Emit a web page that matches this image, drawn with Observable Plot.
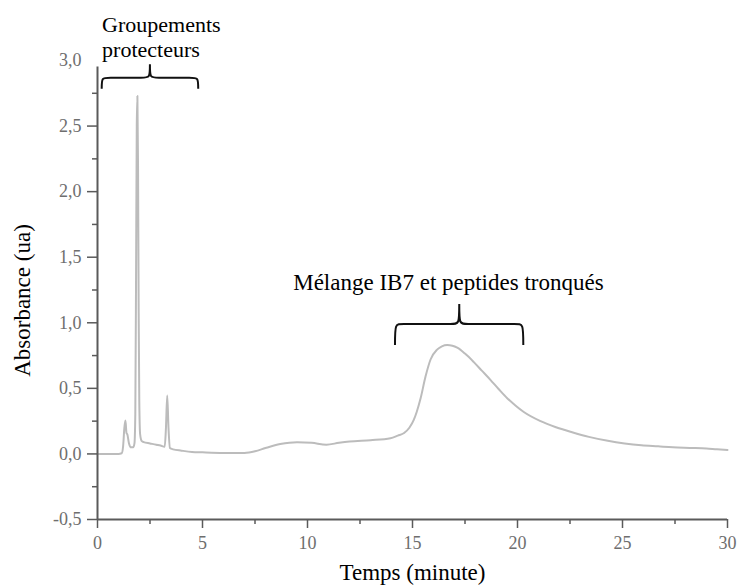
<!DOCTYPE html>
<html>
<head>
<meta charset="utf-8">
<script src="https://cdn.jsdelivr.net/npm/d3@7"></script>
<script src="https://cdn.jsdelivr.net/npm/@observablehq/plot@0.6"></script>
<style>
  html, body { margin: 0; padding: 0; background: #fff; }
  #chart { width: 737px; height: 587px; }
</style>
</head>
<body>
<div id="chart"></div>
<script>
// Chromatogram: time (minute) and absorbance (ua)
const times = [0, 0.5, 1.0, 1.15, 1.22, 1.28, 1.33, 1.38, 1.42, 1.5, 1.6, 1.7, 1.76, 1.8, 1.84, 1.87, 1.9, 1.93, 1.96, 1.99, 2.03, 2.1, 2.2, 2.5, 2.8, 3.0, 3.2, 3.26, 3.32, 3.38, 3.45, 3.6, 4.0, 4.5, 5.0, 6.0, 7.0, 7.5, 8.0, 8.7, 9.5, 10.2, 10.9, 11.5, 12.0, 13.0, 13.95, 14.3, 14.6, 14.85, 15.06, 15.2, 15.38, 15.62, 15.86, 16.17, 16.4, 16.65, 16.9, 17.13, 17.5, 17.92, 18.3, 18.71, 19.1, 19.51, 19.9, 20.3, 21.1, 21.8, 22.6, 23.4, 24.3, 25.1, 25.9, 26.7, 27.4, 28.2, 29.0, 29.5, 30.0];
const absorbance = [0, 0, 0, 0.005, 0.06, 0.2, 0.255, 0.16, 0.15, 0.08, 0.05, 0.05, 0.08, 0.3, 1.5, 2.5, 2.73, 2.2, 1.1, 0.4, 0.15, 0.1, 0.09, 0.08, 0.07, 0.064, 0.055, 0.2, 0.445, 0.2, 0.045, 0.035, 0.025, 0.015, 0.012, 0.008, 0.008, 0.02, 0.045, 0.075, 0.09, 0.085, 0.07, 0.085, 0.095, 0.105, 0.12, 0.14, 0.16, 0.2, 0.26, 0.32, 0.42, 0.59, 0.72, 0.795, 0.82, 0.83, 0.825, 0.81, 0.765, 0.7, 0.635, 0.565, 0.495, 0.425, 0.37, 0.32, 0.25, 0.205, 0.165, 0.13, 0.1, 0.08, 0.066, 0.058, 0.051, 0.046, 0.041, 0.035, 0.03];

const xMajorTicks = [0, 5, 10, 15, 20, 25, 30];
const xMinorTicks = [2.5, 7.5, 12.5, 17.5, 22.5, 27.5];
const yMajorTicks = [-0.5, 0, 0.5, 1.0, 1.5, 2.0, 2.5];
const yTopTick = [3.0];
const yMinorTicks = [-0.25, 0.25, 0.75, 1.25, 1.75, 2.25, 2.75];

const xTitle = "Temps (minute)";
const yTitle = "Absorbance (ua)";

// annotations (data coordinates)
const leftLabels = ["Groupements", "protecteurs"];
const leftLabelX = [0.22, 0.22];
const leftLabelY = [3.271, 3.080];
const centerLabels = ["Mélange IB7 et peptides tronqués"];
const centerLabelX = [16.71];
const centerLabelY = [1.31];

// braces: [x1, xTip, x2, yEnd, yBar, yTip] in data coordinates
const braces = [
  [0.224, 2.52, 4.82, 2.78, 2.865, 2.967],
  [14.19, 17.25, 20.3, 0.827, 0.987, 1.139]
];

const series = times.map((t, i) => ({t, a: absorbance[i]}));
const leftAnn = leftLabels.map((label, i) => ({label, x: leftLabelX[i], y: leftLabelY[i]}));
const centerAnn = centerLabels.map((label, i) => ({label, x: centerLabelX[i], y: centerLabelY[i]}));

const serif = "Liberation Serif, Times New Roman, serif";
const axisColor = "#5a5a5a";
const tickText = "#6e6e6e";
const fmtY = d => d.toFixed(1).replace(".", ",");

function braceMark(index, scales) {
  const g = d3.create("svg:g");
  for (const [x1, xm, x2, yE, yB, yT] of braces) {
    const X1 = scales.x(x1), XM = scales.x(xm), X2 = scales.x(x2);
    const YE = scales.y(yE), YB = scales.y(yB), YT = scales.y(yT);
    const r = Math.min(9, (XM - X1) / 4);
    const d = `M${X1},${YE} C${X1},${YB} ${X1},${YB} ${X1 + r},${YB} L${XM - r},${YB} C${XM},${YB} ${XM},${YB} ${XM},${YT} C${XM},${YB} ${XM},${YB} ${XM + r},${YB} L${X2 - r},${YB} C${X2},${YB} ${X2},${YB} ${X2},${YE}`;
    g.append("path").attr("d", d).attr("fill", "none").attr("stroke", "#111").attr("stroke-width", 2);
  }
  return g.node();
}

const chart = Plot.plot({
  width: 737,
  height: 587,
  marginLeft: 97,
  marginRight: 10,
  marginTop: 60,
  marginBottom: 68,
  style: {fontFamily: serif, background: "#fff", overflow: "visible"},
  x: {domain: [0, 30]},
  y: {domain: [-0.5, 3.0]},
  marks: [
    Plot.line(series, {x: "t", y: "a", stroke: "#bcbcbc", strokeWidth: 2, curve: "monotone-x"}),
    Plot.ruleY([-0.5], {stroke: axisColor, strokeWidth: 2}),
    Plot.ruleX([0], {y1: -0.5, y2: 2.95, stroke: axisColor, strokeWidth: 2}),
    Plot.axisX(xMajorTicks, {tickSize: 9, tickPadding: 8, stroke: axisColor, strokeWidth: 1.5, fill: tickText, fontSize: 18, fontFamily: serif, tickFormat: d => String(d), label: null}),
    Plot.axisX(xMinorTicks, {tickSize: 5, stroke: axisColor, strokeWidth: 1.5, tickFormat: () => "", label: null}),
    Plot.axisY(yMajorTicks, {tickSize: 10, tickPadding: 6, stroke: axisColor, strokeWidth: 1.5, fill: tickText, fontSize: 18, fontFamily: serif, tickFormat: fmtY, label: null}),
    Plot.axisY(yTopTick, {tickSize: 0, tickPadding: 16, fill: tickText, fontSize: 18, fontFamily: serif, tickFormat: fmtY, label: null}),
    Plot.axisY(yMinorTicks, {tickSize: 5, stroke: axisColor, strokeWidth: 1.5, tickFormat: () => "", label: null}),
    braceMark,
    Plot.text(leftAnn, {x: "x", y: "y", text: "label", textAnchor: "start", lineAnchor: "middle", fontSize: 22, fontFamily: serif, fill: "#000"}),
    Plot.text(centerAnn, {x: "x", y: "y", text: "label", textAnchor: "middle", lineAnchor: "middle", fontSize: 23, fontFamily: serif, fill: "#000"}),
    Plot.text([xTitle], {frameAnchor: "bottom", textAnchor: "middle", dy: 53.6, lineAnchor: "middle", fontSize: 23, fontFamily: serif, fill: "#000"}),
    Plot.text([yTitle], {frameAnchor: "left", textAnchor: "middle", rotate: -90, dx: -74.4, dy: 10.5, lineAnchor: "middle", fontSize: 23, fontFamily: serif, fill: "#000"})
  ]
});
document.getElementById("chart").appendChild(chart);
</script>
</body>
</html>
